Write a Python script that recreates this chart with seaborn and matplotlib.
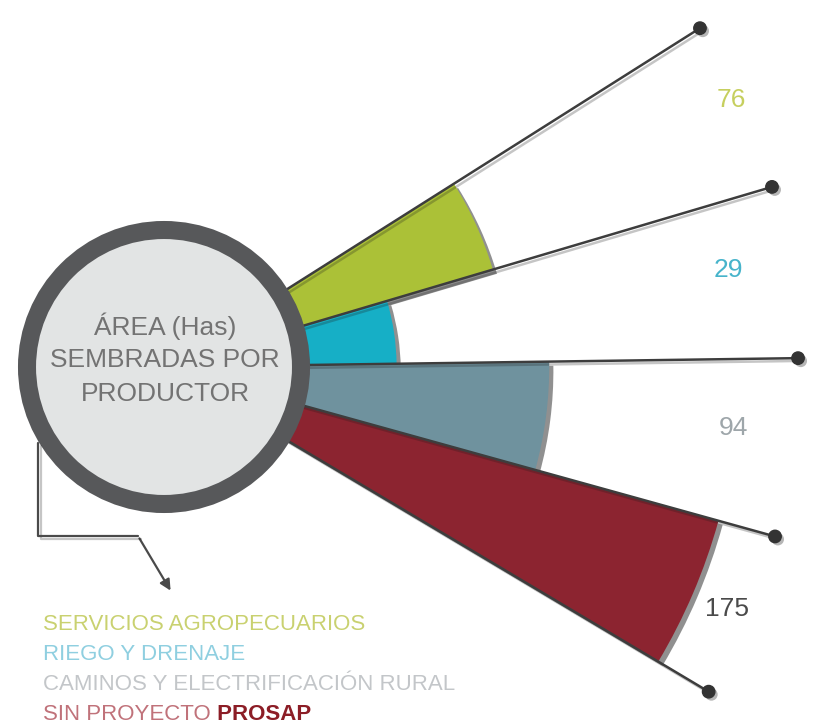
import numpy as np
import seaborn as sns
import matplotlib.pyplot as plt
from matplotlib.patches import Circle
from matplotlib.lines import Line2D
import matplotlib.patheffects as pe

# data
categories = ["SERVICIOS AGROPECUARIOS", "RIEGO Y DRENAJE",
              "CAMINOS Y ELECTRIFICACIÓN RURAL", "SIN PROYECTO"]
values = [76, 29, 94, 175]
value_labels = ["76", "29", "94", "175"]
title_lines = ["ÁREA (Has)", "SEMBRADAS POR", "PRODUCTOR"]

wedge_colors = ["#abc137", "#16afc6", "#6f929e", "#8c2430"]
label_colors = ["#c6cf5e", "#47b4cb", "#9ea6aa", "#4a4a4a"]
legend_colors = ["#c9d170", "#8fcfe0", "#c3c6c9", "#c0727a"]

sns.set_theme(style="white")
plt.rcParams['font.family'] = ['Liberation Sans', 'DejaVu Sans']

W, H = 813, 728
fig = plt.figure(figsize=(W / 100, H / 100), dpi=100)

# layout: centre of the circle in pixels, pixels per unit and offset of the radial scale
cx, cy = 164, H - 367
px_per_unit = 2.348
offset = 70.06
half = 700
rmax = half / px_per_unit - offset

ax = fig.add_axes([(cx - half) / W, (cy - half) / H, 2 * half / W, 2 * half / H],
                  projection='polar')
ax.set_rlim(-offset, rmax)
ax.set_axis_off()

# angular edges of the wedges (degrees)
edges = np.radians([32.3, 16.5, 0.8, -15.5, -30.8])
thetas = (edges[:-1] + edges[1:]) / 2
widths = edges[:-1] - edges[1:]

shadow = [pe.withSimplePatchShadow(offset=(3, -3), shadow_rgbFace='#222222', alpha=0.5)]
bars = ax.bar(thetas, np.array(values) + offset, width=widths, bottom=-offset,
              color=wedge_colors, align='center', linewidth=0, zorder=2)
for b in bars:
    b.set_path_effects(shadow)

# spokes with dots
line_r = 200
for t in edges:
    ax.plot([t, t], [-offset, line_r], color='#3d3d3d', lw=1.8, zorder=3,
            path_effects=[pe.SimpleLineShadow(offset=(2, -2), alpha=0.25), pe.Normal()])
ax.scatter(edges, [line_r] * len(edges), s=80, color='#333333', zorder=4,
           path_effects=[pe.withSimplePatchShadow(offset=(2, -2), alpha=0.3)])

# central circle
ring = Circle((0.5, 0.5), 137 / (2 * half), transform=ax.transAxes,
              facecolor='#e2e4e4', edgecolor='#57585a', lw=13, zorder=5)
ring.set_path_effects([pe.withSimplePatchShadow(offset=(4, -4), alpha=0.4)])
ax.add_artist(ring)
for i, line in enumerate(title_lines):
    fig.text(165 / W, 1 - (326 + 34 * i) / H, line, ha='center', va='center',
             fontsize=19, color='#737373', zorder=6)

# value labels
label_pos = [(731, 100), (728, 270), (733, 428), (727, 609)]
for (x, y), txt, c in zip(label_pos, value_labels, label_colors):
    fig.text(x / W, 1 - y / H, txt, ha='center', va='center', fontsize=19, color=c)

# leader line to the legend
pts = [(38, 443), (38, 536), (138, 536)]
fig.add_artist(Line2D([p[0] / W for p in pts], [1 - p[1] / H for p in pts],
                      color='#4a4a4a', lw=1.6, transform=fig.transFigure,
                      path_effects=[pe.SimpleLineShadow(offset=(2, -2), alpha=0.25), pe.Normal()]))
ax.annotate('', xy=(172, H - 593), xycoords='figure pixels',
            xytext=(138, H - 536), textcoords='figure pixels',
            arrowprops=dict(arrowstyle='-|>', color='#4a4a4a', lw=1.6, mutation_scale=16))

# legend text
for i, (cat, c) in enumerate(zip(categories, legend_colors)):
    t = fig.text(43 / W, 1 - (624 + 30 * i) / H, cat, ha='left', va='center',
                 fontsize=16, color=c)
last = t
ax.annotate(" PROSAP", xy=(1, 0.5), xycoords=last, va='center', ha='left',
            fontsize=16, fontweight='bold', color='#8c1d26')

fig.savefig('out.png', dpi=100)
